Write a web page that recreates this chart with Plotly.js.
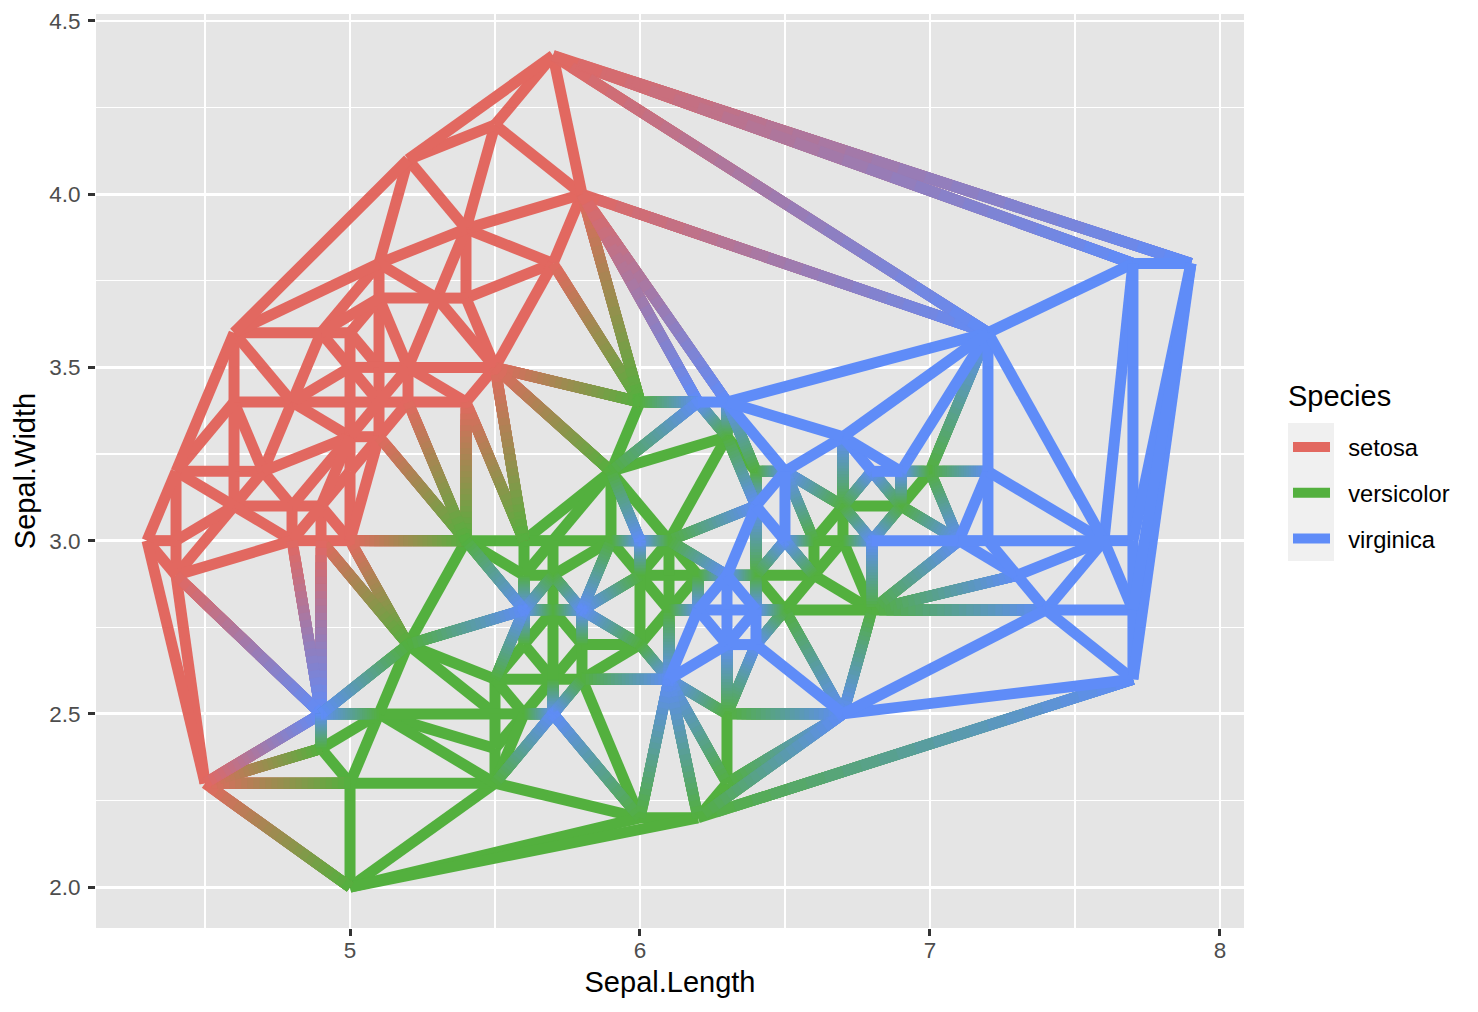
<!DOCTYPE html>
<html><head><meta charset="utf-8"><script src="https://cdn.plot.ly/plotly-3.0.1.min.js"></script>
<style>html,body{margin:0;padding:0;background:#fff}</style></head><body><div id="chart" style="width:1478px;height:1012px"></div>
<script>
const setosaLength=[5.1,4.9,4.7,4.6,5.0,5.4,4.6,5.0,4.4,4.9,5.4,4.8,4.8,4.3,5.8,5.7,5.4,5.1,5.7,5.1,5.4,5.1,4.6,5.1,4.8,5.0,5.0,5.2,5.2,4.7,4.8,5.4,5.2,5.5,4.9,5.0,5.5,4.9,4.4,5.1,5.0,4.5,4.4,5.0,5.1,4.8,5.1,4.6,5.3,5.0];
const setosaWidth=[3.5,3.0,3.2,3.1,3.6,3.9,3.4,3.4,2.9,3.1,3.7,3.4,3.0,3.0,4.0,4.4,3.9,3.5,3.8,3.8,3.4,3.7,3.6,3.3,3.4,3.0,3.4,3.5,3.4,3.2,3.1,3.4,4.1,4.2,3.1,3.2,3.5,3.6,3.0,3.4,3.5,2.3,3.2,3.5,3.8,3.0,3.8,3.2,3.7,3.3];
const versicolorLength=[7.0,6.4,6.9,5.5,6.5,5.7,6.3,4.9,6.6,5.2,5.0,5.9,6.0,6.1,5.6,6.7,5.6,5.8,6.2,5.6,5.9,6.1,6.3,6.1,6.4,6.6,6.8,6.7,6.0,5.7,5.5,5.5,5.8,6.0,5.4,6.0,6.7,6.3,5.6,5.5,5.5,6.1,5.8,5.0,5.6,5.7,5.7,6.2,5.1,5.7];
const versicolorWidth=[3.2,3.2,3.1,2.3,2.8,2.8,3.3,2.4,2.9,2.7,2.0,3.0,2.2,2.9,2.9,3.1,3.0,2.7,2.2,2.5,3.2,2.8,2.5,2.8,2.9,3.0,2.8,3.0,2.9,2.6,2.4,2.4,2.7,2.7,3.0,3.4,3.1,2.3,3.0,2.5,2.6,3.0,2.6,2.3,2.7,3.0,2.9,2.9,2.5,2.8];
const virginicaLength=[6.3,5.8,7.1,6.3,6.5,7.6,4.9,7.3,6.7,7.2,6.5,6.4,6.8,5.7,5.8,6.4,6.5,7.7,7.7,6.0,6.9,5.6,7.7,6.3,6.7,7.2,6.2,6.1,6.4,7.2,7.4,7.9,6.4,6.3,6.1,7.7,6.3,6.4,6.0,6.9,6.7,6.9,5.8,6.8,6.7,6.7,6.3,6.5,6.2,5.9];
const virginicaWidth=[3.3,2.7,3.0,2.9,3.0,3.0,2.5,2.9,2.5,3.6,3.2,2.7,3.0,2.5,2.8,3.2,3.0,3.8,2.6,2.2,3.2,2.8,2.8,2.7,3.3,3.2,2.8,3.0,2.8,3.0,2.8,3.8,2.8,2.8,2.6,3.0,3.4,3.1,3.0,3.1,3.1,3.1,2.7,3.2,3.3,3.0,2.5,3.0,3.4,3.0];
const speciesNames=['setosa','versicolor','virginica'];
const speciesColors=[[226,104,96],[83,176,62],[95,140,248]];
const xTicks=[5,6,7,8];
const yTicks=[2,2.5,3,3.5,4,4.5];
const chosenDiagonals=[
[7.2,3.0,7.6,3.0],[4.5,2.3,5.0,2.3],[4.9,3.0,5.2,2.7],[5.4,3.0,5.2,3.4],[5.0,3.0,5.1,3.3],
[5.0,3.3,5.1,3.4],[5.0,3.5,5.1,3.4],[5.1,3.4,5.2,3.5],[5.2,3.5,5.5,3.5],[5.3,3.7,5.5,3.5],
[4.9,3.6,5.1,3.7],[4.7,3.2,5.0,3.3],[4.8,3.1,5.0,3.3],[4.9,3.1,5.0,3.3],[4.8,3.0,4.9,3.1],
[6.3,3.4,6.4,3.2],[5.9,3.2,6.3,3.3],[6.1,3.0,6.3,2.9],[6.0,2.9,6.1,3.0],[6.1,2.8,6.2,2.9],
[6.2,2.8,6.3,2.9],[6.3,2.9,6.4,2.8],[6.3,2.7,6.4,2.8],[6.4,2.9,6.6,2.9],[6.7,3.1,6.9,3.1],
[5.5,2.6,5.7,2.6],[5.7,2.6,5.7,2.8],[5.5,2.3,5.6,2.5],[5.6,2.8,5.7,2.9],[5.6,2.9,5.7,3.0]];

// unique points; a repeated point keeps the species listed first
const pts=[],index={};
[[setosaLength,setosaWidth],[versicolorLength,versicolorWidth],[virginicaLength,virginicaWidth]].forEach((s,sp)=>{
  s[0].forEach((x,i)=>{const X=Math.round(x*10),Y=Math.round(s[1][i]*10),k=X+'_'+Y;
    if(index[k]===undefined){index[k]=pts.length;pts.push({X,Y,x,y:s[1][i],sp});}});
});
const N=pts.length,edgeMap={};
const key=(a,b)=>a<b?a+'-'+b:b+'-'+a;
const addEdge=(a,b)=>{edgeMap[key(a,b)]=[a,b];};
// Delaunay triangulation: every empty circle through three points gives its polygon's sides
const polys={};
for(let i=0;i<N;i++)for(let j=i+1;j<N;j++)for(let k=j+1;k<N;k++){
  const a=pts[i],b=pts[j],c=pts[k];
  const d=2*(a.X*(b.Y-c.Y)+b.X*(c.Y-a.Y)+c.X*(a.Y-b.Y));
  if(d===0)continue;
  const A=a.X*a.X+a.Y*a.Y,B=b.X*b.X+b.Y*b.Y,C=c.X*c.X+c.Y*c.Y;
  const cx=(A*(b.Y-c.Y)+B*(c.Y-a.Y)+C*(a.Y-b.Y))/d,cy=(A*(c.X-b.X)+B*(a.X-c.X)+C*(b.X-a.X))/d;
  const r2=(a.X-cx)**2+(a.Y-cy)**2,on=[];let empty=true;
  for(let m=0;m<N;m++){const dd=(pts[m].X-cx)**2+(pts[m].Y-cy)**2;
    if(Math.abs(dd-r2)<1e-6)on.push(m);else if(dd<r2){empty=false;break;}}
  if(!empty)continue;
  on.sort((p,q)=>Math.atan2(pts[p].Y-cy,pts[p].X-cx)-Math.atan2(pts[q].Y-cy,pts[q].X-cx));
  polys[on.join(',')]=on;
}
Object.values(polys).forEach(p=>p.forEach((v,i)=>addEdge(v,p[(i+1)%p.length])));
const find=(x,y)=>index[Math.round(x*10)+'_'+Math.round(y*10)];
chosenDiagonals.forEach(e=>addEdge(find(e[0],e[1]),find(e[2],e[3])));

// Gradient edges are drawn as overlapping runs, one trace per colour step, later steps on top
const STEPS=24,OVERLAP=6,groups={};
const group=(id)=>groups[id]||(groups[id]={x:[],y:[]});
const push=(g,a,b,t0,t1)=>{g.x.push(a.x+(b.x-a.x)*t0,a.x+(b.x-a.x)*t1,null);g.y.push(a.y+(b.y-a.y)*t0,a.y+(b.y-a.y)*t1,null);};
Object.values(edgeMap).forEach(([i,j])=>{let a=pts[i],b=pts[j];
  if(a.sp>b.sp)[a,b]=[b,a];
  if(a.sp===b.sp){push(group('p'+a.sp),a,b,0,1);return;}
  for(let k=0;k<STEPS;k++)push(group(`m${a.sp}${b.sp}_${k}`),a,b,k/STEPS,Math.min(1,(k+OVERLAP)/STEPS));
});
const WIDTH=11;
const lineTrace=(g,color,extra)=>Object.assign({type:'scatter',mode:'lines',x:g.x,y:g.y,connectgaps:false,hoverinfo:'skip',line:{color,width:WIDTH,simplify:false},showlegend:false},extra);
const css=c=>`rgb(${c.map(v=>Math.round(v)).join(',')})`;
const traces=[];
const pure=sp=>lineTrace(groups['p'+sp],css(speciesColors[sp]),{name:'\u00a0\u00a0'+speciesNames[sp],showlegend:true,legendgroup:speciesNames[sp]});
traces.push(pure(0),pure(1));
[[0,1],[0,2],[1,2]].forEach(([s,e])=>{for(let k=0;k<STEPS;k++){const g=groups[`m${s}${e}_${k}`];if(!g)continue;
  const t=(k+.5)/STEPS;traces.push(lineTrace(g,css(speciesColors[s].map((v,c)=>v+(speciesColors[e][c]-v)*t))));}});
traces.push(pure(2));

const W=1478,H=1012,L=96,R=1244,T=14,B=928;
const FONT='Liberation Sans, Arial, sans-serif';
const px=v=>(v-L)/(R-L),py=v=>(B-v)/(B-T);
const keyBg=[423,469,515].map(y=>({type:'rect',xref:'paper',yref:'paper',x0:px(1288),x1:px(1334),y0:py(y+46),y1:py(y),fillcolor:'#f0f0f0',line:{width:0},layer:'below'}));
const axis=(range,tickvals,minorStart,minorStep,fmt,title,standoff,labelOffset)=>({range,tickmode:'array',tickvals,ticktext:tickvals.map(v=>fmt?v.toFixed(1):String(v)),
  showgrid:true,gridcolor:'#fff',gridwidth:2.8,zeroline:false,showline:false,
  minor:{tickmode:'linear',tick0:minorStart,dtick:minorStep,showgrid:true,gridcolor:'#fff',gridwidth:1.4,ticks:''},
  ticks:'outside',ticklen:7,tickwidth:3,tickcolor:'#333',ticklabelstandoff:labelOffset,tickfont:{family:FONT,size:22.5,color:'#4d4d4d'},
  title:{text:title,standoff,font:{family:FONT,size:29,color:'#000'}}});
const layout={width:W,height:H,margin:{l:L,r:W-R,t:T,b:H-B,pad:0},paper_bgcolor:'#fff',plot_bgcolor:'#e5e5e5',
  font:{family:FONT},hovermode:false,
  xaxis:axis([4.124,8.083],xTicks,4.5,1,false,'Sepal.Length',9,-5),
  yaxis:axis([1.882,4.52],yTicks,2.25,0.5,true,'Sepal.Width',5,3),
  shapes:keyBg,
  annotations:[{xref:'paper',yref:'paper',x:px(1286),y:py(396),xanchor:'left',yanchor:'middle',showarrow:false,text:'Species',font:{family:FONT,size:29,color:'#000'}}],
  legend:{x:px(1288),xanchor:'left',y:py(425),yanchor:'top',bgcolor:'rgba(0,0,0,0)',borderwidth:0,itemwidth:37,tracegroupgap:12,itemclick:false,itemdoubleclick:false,
    font:{family:FONT,size:23.7,color:'#000'}}};
Plotly.newPlot('chart',traces,layout,{displayModeBar:false,staticPlot:true});
</script></body></html>
